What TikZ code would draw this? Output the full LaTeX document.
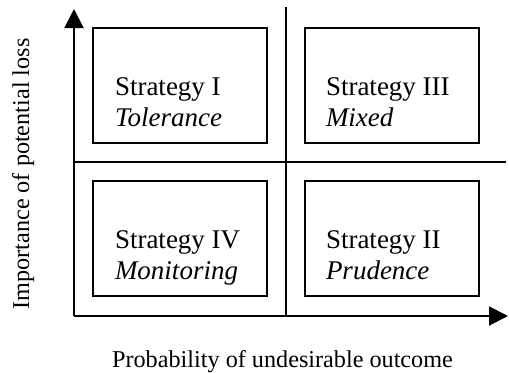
\documentclass[tikz,border=0pt]{standalone}
\usepackage{fontspec}
\setmainfont{Liberation Serif}
\usetikzlibrary{arrows.meta}
\begin{document}
\begin{tikzpicture}[x=0.5pt, y=-0.5pt, line width=1pt,
	quad/.style={draw, minimum width=87pt, minimum height=57.5pt, inner sep=0pt},
	txt/.style={anchor=west, align=left, inner sep=0pt, font=\fontsize{13.5}{15.5}\selectfont},
	axlabel/.style={anchor=base, inner sep=0pt, font=\fontsize{12.1}{14}\selectfont},
	axis/.style={-{Triangle[length=9.5pt, width=9.5pt]}}]

	\useasboundingbox (0,0) rectangle (509,372);

	\coordinate (o) at (74,316);
	\coordinate (ytop) at (74,9);
	\coordinate (xend) at (508,316);
	\coordinate (vtop) at (286,7);
	\coordinate (vbot) at (286,316);
	\coordinate (hleft) at (74,162);
	\coordinate (hright) at (506,162);

	\draw[axis] (o) -- (ytop);
	\draw[axis] (o) -- (xend);
	\draw (vtop) -- (vbot);
	\draw (hleft) -- (hright);

	\node[quad] (q1) at (180,85.5) {};
	\node[quad] (q3) at (391.5,85.5) {};
	\node[quad] (q4) at (180,238.5) {};
	\node[quad] (q2) at (391.5,238.5) {};

	\node[txt] (s1) at (114,106.5) {Strategy I\\\textit{Tolerance}\strut};
	\node[txt] (s3) at (325,106.5) {Strategy III\\\textit{Mixed}\strut};
	\node[txt] (s4) at (114,259.5) {Strategy IV\\\textit{Monitoring}\strut};
	\node[txt] (s2) at (325,259.5) {Strategy II\\\textit{Prudence}\strut};

	\node[axlabel] (xl) at (282.5,367) {Probability of undesirable outcome};
	\node[axlabel, rotate=90] (yl) at (29,174) {Importance of potential loss};

\end{tikzpicture}
\end{document}
